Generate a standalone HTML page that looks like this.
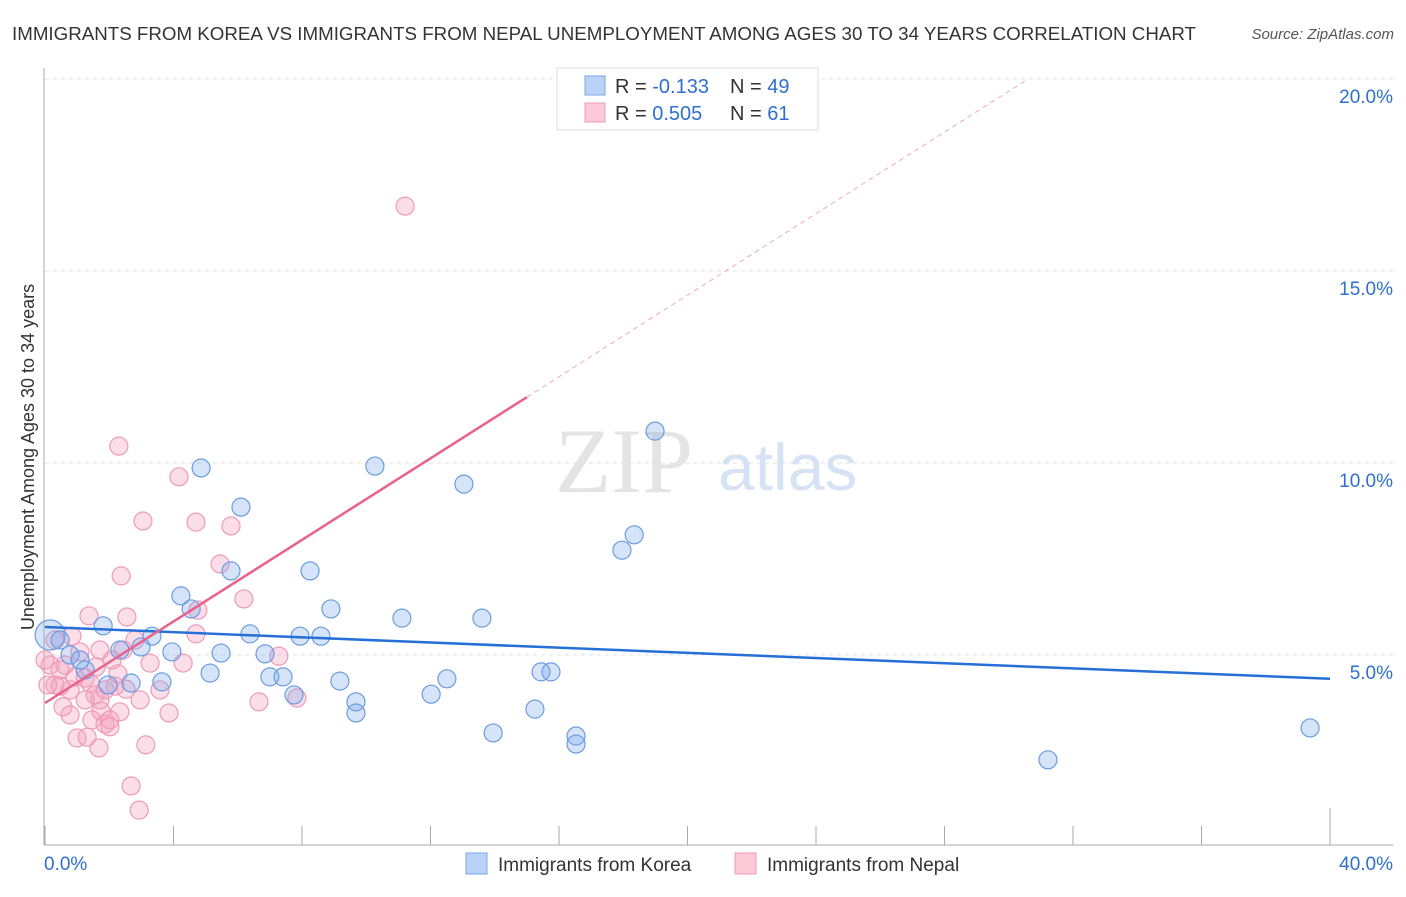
<!DOCTYPE html>
<html><head><meta charset="utf-8"><style>
body{margin:0;background:#fff;font-family:"Liberation Sans",sans-serif}
svg text{font-family:"Liberation Sans",sans-serif}
</style></head><body>
<svg id="chart" width="1406" height="892" viewBox="0 0 1406 892" xmlns="http://www.w3.org/2000/svg">
<text x="12" y="40" font-size="18" fill="#333" textLength="1184" lengthAdjust="spacingAndGlyphs">IMMIGRANTS FROM KOREA VS IMMIGRANTS FROM NEPAL UNEMPLOYMENT AMONG AGES 30 TO 34 YEARS CORRELATION CHART</text>
<text x="1394" y="39" font-size="15" fill="#555" font-style="italic" text-anchor="end">Source: ZipAtlas.com</text>
<g id="grid"></g>
<text x="555" y="492" font-size="92" fill="#e4e4e4" font-family="Liberation Serif" style="font-family:'Liberation Serif',serif">ZIP</text>
<text x="718" y="490" font-size="66" fill="#d6e3f5">atlas</text>
<g id="axes"></g>
<g id="pink-pts"></g>
<g id="blue-pts"></g>
<g id="trends"></g>
<text transform="translate(34,457) rotate(-90)" font-size="18" fill="#333" text-anchor="middle">Unemployment Among Ages 30 to 34 years</text>
<g>
<rect x="557" y="68" width="261" height="62" fill="#fff" stroke="#ddd"/>
<rect x="585" y="76" width="20" height="19" fill="#b9d2f5" stroke="#7aa6e6"/>
<rect x="585" y="103" width="20" height="19" fill="#fcc9d8" stroke="#ee9ab5"/>
<text x="615" y="93" font-size="20" fill="#333">R = <tspan fill="#2e6fd0">-0.133</tspan></text>
<text x="730" y="93" font-size="20" fill="#333">N = <tspan fill="#2e6fd0">49</tspan></text>
<text x="615" y="120" font-size="20" fill="#333">R = <tspan fill="#2e6fd0"> 0.505</tspan></text>
<text x="730" y="120" font-size="20" fill="#333">N = <tspan fill="#2e6fd0"> 61</tspan></text>
</g>
<g>
<rect x="466" y="853" width="21" height="21" fill="#b9d2f5" stroke="#7aa6e6"/>
<text x="498" y="871" font-size="19" fill="#333">Immigrants from Korea</text>
<rect x="735" y="853" width="21" height="21" fill="#fcc9d8" stroke="#ee9ab5"/>
<text x="767" y="871" font-size="19" fill="#333">Immigrants from Nepal</text>
</g>
</svg>
<script>
const koreaX=[0.16,0.47,0.78,1.09,1.81,2.33,1.96,2.68,3.33,2.99,3.64,3.95,4.23,4.55,4.86,5.14,5.48,5.79,6.10,6.38,6.85,7.00,7.41,7.75,7.94,8.25,8.59,8.90,9.18,9.68,9.68,10.27,11.11,12.02,12.51,13.04,13.60,13.95,15.25,15.44,15.75,16.53,16.53,17.96,18.34,18.99,31.22,39.38,1.25];
const koreaY=[5.52,5.39,5.00,4.87,5.76,5.13,4.22,4.27,5.49,5.21,4.30,5.08,6.54,6.20,9.87,4.53,5.05,7.19,8.85,5.55,5.03,4.43,4.43,3.96,5.49,7.19,5.49,6.20,4.32,3.78,3.49,9.92,5.96,3.98,4.38,9.45,5.96,2.97,3.59,4.56,4.56,2.89,2.68,7.73,8.13,10.83,2.27,3.10,4.61];
const nepalX=[11.21,2.30,4.17,3.05,4.70,5.79,2.37,5.45,6.19,4.76,1.37,2.55,4.70,0.84,0.31,1.71,1.09,0.16,0.62,1.59,3.27,4.30,7.28,0.31,0.47,1.40,2.18,2.52,1.25,0.78,1.71,1.74,0.56,1.46,1.87,2.02,2.33,2.02,1.00,1.31,1.68,3.86,3.14,2.68,2.93,6.66,7.84,0.93,0.47,0.00,0.09,1.56,2.27,2.43,2.96,3.58,1.87,0.78,1.25,2.80,2.09];
const nepalY=[16.69,10.44,9.64,8.49,8.46,8.36,7.06,7.37,6.46,6.17,6.02,5.99,5.55,5.49,5.39,5.13,5.08,4.74,4.74,4.69,4.79,4.79,4.97,4.22,4.19,4.27,4.19,4.11,4.40,4.09,3.83,3.54,3.65,3.31,3.20,3.31,3.52,3.13,2.84,2.86,2.58,3.49,2.66,1.59,0.96,3.78,3.88,4.43,4.61,4.87,4.22,3.96,4.51,5.13,3.83,4.09,4.09,3.44,3.83,5.39,4.87];
const koreaTrend=[5.73,-0.03375]; // intercept, slope
const nepalTrend=[3.75,0.531];
const nepalSolidEnd=15.0, nepalDashEnd=30.5;
const yTicks=[5,10,15,20];
const yTickLabels=["5.0%","10.0%","15.0%","20.0%"];
const xTicks=[0,4,8,12,16,20,24,28,32,36,40];
const xLabels=["0.0%","40.0%"];

const NS="http://www.w3.org/2000/svg";
const X=v=>45+v*32.125, Y=v=>847-v*38.4;
function mk(tag,attrs,parent){const e=document.createElementNS(NS,tag);for(const k in attrs)e.setAttribute(k,attrs[k]);parent.appendChild(e);return e;}
const grid=document.getElementById('grid'),axes=document.getElementById('axes');
yTicks.forEach((t,i)=>{
  const l=mk('line',{x1:45,x2:1393,y1:Y(t),y2:Y(t),stroke:'#e2e2e2','stroke-dasharray':'4,4'},grid);
  
  
  const tx=mk('text',{x:1393,y:Y(t)+24,'font-size':19,fill:'#2e6fd0','text-anchor':'end'},grid);
  tx.textContent=yTickLabels[i];
  
  
});
let a=mk('line',{x1:44,x2:44,y1:68,y2:845,stroke:'#aaa'},axes);


a=mk('line',{x1:44,x2:1393,y1:845,y2:845,stroke:'#aaa'},axes);


xTicks.forEach(t=>{
  const l=mk('line',{x1:X(t),x2:X(t),y1:t==40?808:826,y2:845,stroke:'#aaa'},axes);
  
  
});
let xl=mk('text',{x:44,y:870,'font-size':19,fill:'#2e6fd0'},axes);xl.textContent=xLabels[0];


xl=mk('text',{x:1393,y:870,'font-size':19,fill:'#2e6fd0','text-anchor':'end'},axes);xl.textContent=xLabels[1];


const pp=document.getElementById('pink-pts');
nepalX.forEach((x,i)=>{
  const c=mk('circle',{cx:X(x),cy:Y(nepalY[i]),r:9,fill:'rgba(244,160,188,0.35)',stroke:'#ef9ab6','stroke-width':1.2},pp);
  
  
});
const bp=document.getElementById('blue-pts');
koreaX.forEach((x,i)=>{
  const c=mk('circle',{cx:X(x),cy:Y(koreaY[i]),r:i==0?15:9,fill:'rgba(120,165,235,0.3)',stroke:'#6b9ce0','stroke-width':1.2},bp);
  
  
});
const tr=document.getElementById('trends');
let t=mk('line',{x1:X(0),y1:Y(koreaTrend[0]),x2:X(40),y2:Y(koreaTrend[0]+koreaTrend[1]*40),stroke:'#2470d6','stroke-width':2.5},tr);


t=mk('line',{x1:X(0),y1:Y(nepalTrend[0]),x2:X(nepalSolidEnd),y2:Y(nepalTrend[0]+nepalTrend[1]*nepalSolidEnd),stroke:'#e8628e','stroke-width':2.5},tr);


t=mk('line',{x1:X(nepalSolidEnd),y1:Y(nepalTrend[0]+nepalTrend[1]*nepalSolidEnd),x2:X(nepalDashEnd),y2:Y(nepalTrend[0]+nepalTrend[1]*nepalDashEnd),stroke:'#f0a8bf','stroke-width':1,'stroke-dasharray':'5,4'},tr);


</script>
</body></html>
